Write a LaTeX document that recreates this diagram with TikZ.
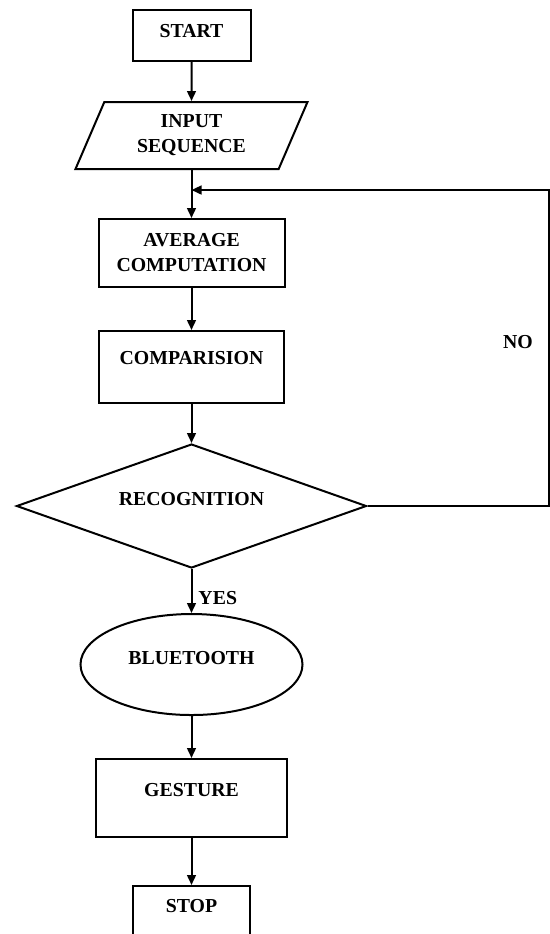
\documentclass[tikz,border=0pt]{standalone}
\usepackage{fontspec}
\setmainfont{Liberation Serif}
\usetikzlibrary{positioning,arrows.meta,shapes.geometric}

\begin{document}
\begin{tikzpicture}[
    node distance=21pt,
    >={Triangle[length=5pt,width=4.4pt]},
    line width=1pt,
    every node/.style={font=\fontsize{9.9}{12.5}\selectfont\bfseries, align=center},
    box/.style={draw, rectangle, minimum width=93pt, minimum height=35pt, inner sep=0pt},
    io/.style={draw, trapezium, trapezium left angle=55, trapezium right angle=125, trapezium stretches body=true, minimum width=116pt, minimum height=33.5pt, inner sep=0pt},
    decision/.style={draw, diamond, aspect=2.8, minimum width=175pt, minimum height=62pt, inner sep=0pt},
    oval/.style={draw, ellipse, minimum width=111pt, minimum height=50.5pt, inner sep=0pt}
]
\useasboundingbox (0,0) rectangle (275pt,-467pt);
\node[box, minimum width=59pt, minimum height=25.5pt, text depth=5pt] (start) at (95.75pt,-17.75pt) {START};
\node[io, below=19.5pt of start] (input) {INPUT\\SEQUENCE};
\node[box, below=24pt of input, minimum height=34pt] (avg) {AVERAGE\\COMPUTATION};
\node[box, below=of avg, minimum width=92.5pt, minimum height=36pt, text depth=9pt] (comp) {COMPARISION};
\node[decision, below=19.5pt of comp, text depth=7pt] (recog) {RECOGNITION};
\node[oval, below=22pt of recog, text depth=7pt] (bt) {BLUETOOTH};
\node[box, below=of bt, minimum width=95.5pt, minimum height=39pt, text depth=8pt] (gesture) {GESTURE};
\node[box, below=23.5pt of gesture, minimum width=58.5pt, minimum height=28pt, text depth=8pt] (stop) {STOP};
\coordinate[above=14pt of avg.north] (merge);
\draw[->] (start) -- (input);
\draw[->] (input.south) -- (input.south |- avg.north);
\draw[->] (avg) -- (comp);
\draw[->] (comp) -- (recog);
\draw[->] (recog) -- node[right, pos=0.66, inner sep=3pt] (yes) {YES} (bt);
\draw[->] (bt) -- (gesture);
\draw[->] (gesture) -- (stop);
\draw[->] (recog.east) -- ++(90.5pt,0) |- node[pos=0.26, left=4pt] (no) {NO} (input.south |- merge);
\end{tikzpicture}
\end{document}
